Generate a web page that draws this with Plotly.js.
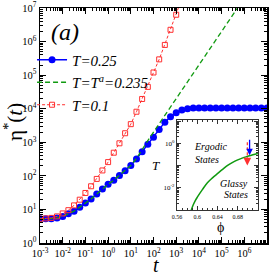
<!DOCTYPE html>
<html><head><meta charset="utf-8">
<script src="https://cdn.plot.ly/plotly-3.0.1.min.js"></script>
<style>html,body{margin:0;padding:0;background:#fff}#p{width:274px;height:274px}</style>
</head><body><div id="p"></div>
<script>
// time grid (4 points per decade)
const tBlue = [0.001,0.00178,0.00316,0.00562,0.01,0.0178,0.0316,0.0562,0.1,0.178,0.316,0.562,1,1.78,3.16,5.62,10,17.8,31.6,56.2,100,178,316,562,1000,1780,3160,5620,10000,17800,31600,56200,100000,178000,316000,562000,1000000,1780000,3160000,5620000,10000000];
const etaBlue = [5.25,5.25,5.3,5.6,6.2,7.4,8.9,11.7,15.5,20.4,28.8,40.7,56,74,102,141,204,316,525,871,1410,2400,3980,5750,7590,9120,10000,10470,10500,10500,10500,10500,10500,10500,10500,10500,10500,10500,10500,10500,10500];
const tGreen = [0.001,0.00178,0.00316,0.00562,0.01,0.0178,0.0316,0.0562,0.1,0.178,0.316,0.562,1,1.78,3.16,5.62,10,17.8,31.6,56.2,100,178,316,562,1000,1780,3160,5620,10000,17800,31600,56200,100000,178000,316000,562000,1000000];
const etaGreen = [5.25,5.25,5.3,5.6,6.2,7.4,8.9,11.7,15.5,20.4,28.8,40.7,56,74,102,141,204,331,631,1120,2000,3550,6310,11200,20000,35500,63100,112000,200000,355000,631000,1120000,2000000,3550000,6310000,11200000,20000000];
const tRed = [0.001,0.00178,0.00316,0.00562,0.01,0.0178,0.0316,0.0562,0.1,0.178,0.316,0.562,1,1.78,3.16,5.62,10,17.8,31.6,56.2,100,178,316,562,1000,1780];
const etaRed = [5.25,5.4,5.6,6.2,7.6,9.5,13.2,19.5,30.9,49,81,145,257,490,933,1860,3470,8130,19500,44700,120000,295000,794000,2240000,6300000,19000000];
// inset: glass transition line T(phi)
const phiLine = [0.588,0.592,0.596,0.6,0.61,0.62,0.63,0.64,0.65,0.66,0.67,0.68,0.69,0.70,0.71,0.72];
const TLine = [0.001,0.00174,0.00269,0.0038,0.0083,0.017,0.0282,0.0437,0.0676,0.102,0.141,0.182,0.224,0.263,0.309,0.355];
const legendNames = ['<i>T=0.25</i>','<i>T=T<sup>a</sup>=0.235</i>','<i>T=0.1</i>'];
const xTickVals = [1e-3,1e-2,1e-1,1,10,100,1e3,1e4,1e5,1e6,1e7];
const xTickText = ['10<sup>-3</sup>','10<sup>-2</sup>','10<sup>-1</sup>','10<sup>0</sup>','10<sup>1</sup>','10<sup>2</sup>','10<sup>3</sup>','10<sup>4</sup>','10<sup>5</sup>','10<sup>6</sup>','10<sup>7</sup>'];
const yTickVals = [1,10,100,1e3,1e4,1e5,1e6,1e7];
const yTickText = ['10<sup>0</sup>','10<sup>1</sup>','10<sup>2</sup>','10<sup>3</sup>','10<sup>4</sup>','10<sup>5</sup>','10<sup>6</sup>','10<sup>7</sup>'];
const insetXTicks = [0.56,0.6,0.64,0.68];
const insetXText = ['0.56','0.6','0.64','0.68'];
const insetYTicks = [0.001,0.01,0.1,1,10];
const insetYText = ['','10<sup>-2</sup>','','10<sup>0</sup>',''];

const F = 'Liberation Serif, Times New Roman, serif';
const traces = [
  {x:tBlue,y:etaBlue,name:legendNames[0],mode:'lines+markers',line:{color:'#0000ff',width:1.5},marker:{color:'#0000ff',size:7,symbol:'circle'}},
  {x:tGreen,y:etaGreen,name:legendNames[1],mode:'lines',line:{color:'#109a10',width:1.3,dash:'5px,3px'}},
  {x:tRed,y:etaRed,name:legendNames[2],mode:'lines+markers',line:{color:'#ff3030',width:1,dash:'3px,2px'},marker:{color:'#ff3030',size:5,symbol:'square-open',line:{width:1}}},
  {x:phiLine,y:TLine,xaxis:'x2',yaxis:'y2',mode:'lines',line:{color:'#109a10',width:1.5,shape:'spline'},showlegend:false}
];
const ax = {type:'log',showgrid:false,zeroline:false,showline:true,linecolor:'#000',linewidth:1.5,mirror:'allticks',ticks:'inside',ticklen:6,tickwidth:1,tickcolor:'#000',tickangle:0,tickmode:'array',tickfont:{family:F,size:10.5,color:'#000'},minor:{dtick:'D1',ticks:'inside',ticklen:3,tickcolor:'#000',showgrid:false}};
const A = (x,y,text,size,extra) => Object.assign({xref:'paper',yref:'paper',x:(x-40)/227,y:(243-y)/235,xanchor:'center',yanchor:'middle',text:text,showarrow:false,font:{family:F,size:size,color:'#000'}},extra||{});
const layout = {
  width:274,height:274,margin:{l:40,r:7,t:8,b:31},paper_bgcolor:'#fff',plot_bgcolor:'#fff',
  font:{family:F,color:'#000'},
  xaxis:Object.assign({},ax,{range:[-3,7],tickvals:xTickVals,ticktext:xTickText}),
  yaxis:Object.assign({},ax,{range:[0,7],tickvals:yTickVals,ticktext:yTickText}),
  xaxis2:{domain:[0.604,0.96],anchor:'y2',range:[0.56,0.72],showgrid:false,zeroline:false,showline:true,linecolor:'#333',linewidth:1.2,mirror:'allticks',ticks:'inside',ticklen:4,tickcolor:'#333',tickangle:0,tickmode:'array',tickvals:insetXTicks,ticktext:insetXText,tickfont:{family:F,size:6},minor:{dtick:0.01,ticks:'inside',ticklen:2,tickcolor:'#333'}},
  yaxis2:{domain:[0.14,0.523],anchor:'x2',type:'log',range:[-3,1.05],showgrid:false,zeroline:false,showline:true,linecolor:'#333',linewidth:1.2,mirror:'allticks',ticks:'inside',ticklen:4,tickcolor:'#333',tickmode:'array',tickvals:insetYTicks,ticktext:insetYText,tickfont:{family:F,size:7},minor:{dtick:'D1',ticks:'inside',ticklen:2,tickcolor:'#333'}},
  legend:{x:-0.035,y:0.849,xanchor:'left',yanchor:'top',bgcolor:'rgba(0,0,0,0)',font:{family:F,size:15},itemwidth:30},
  annotations:[
    A(13,122,'η<sup>*</sup>(<i>t</i>)',21,{textangle:-90}),
    A(155.5,265,'<i>t</i>',20),
    A(65,32,'<i>(a)</i>',24),
    A(155.5,165,'<i>T</i>',13),
    A(220,227.5,'ϕ',14),
    {xref:'x2',yref:'y2',x:0.626,y:-0.12,text:'<i>Ergodic</i>',showarrow:false,font:{family:F,size:10}},
    {xref:'x2',yref:'y2',x:0.62,y:-0.71,text:'<i>States</i>',showarrow:false,font:{family:F,size:10}},
    {xref:'x2',yref:'y2',x:0.672,y:-1.8,text:'<i>Glassy</i>',showarrow:false,font:{family:F,size:10}},
    {xref:'x2',yref:'y2',x:0.676,y:-2.3,text:'<i>States</i>',showarrow:false,font:{family:F,size:10}},
    {xref:'x2',yref:'y2',x:0.7035,y:-0.53,ax:0,ay:-17,text:'',showarrow:true,arrowhead:2,arrowsize:1,arrowwidth:1.3,arrowcolor:'#0000ff'},
    {xref:'x2',yref:'y2',x:0.699,y:-0.99,ax:0,ay:-7,text:'',showarrow:true,arrowhead:2,arrowsize:1.2,arrowwidth:1.3,arrowcolor:'#ff3030'}
  ],
  shapes:[
    {type:'line',xref:'x2',yref:'y2',x0:0.699,x1:0.699,y0:1.12,y1:0.17,line:{color:'#ff3030',width:1.2,dash:'3px,2px'}}
  ]
};
Plotly.newPlot('p',traces,layout,{staticPlot:true,displayModeBar:false});
</script></body></html>
